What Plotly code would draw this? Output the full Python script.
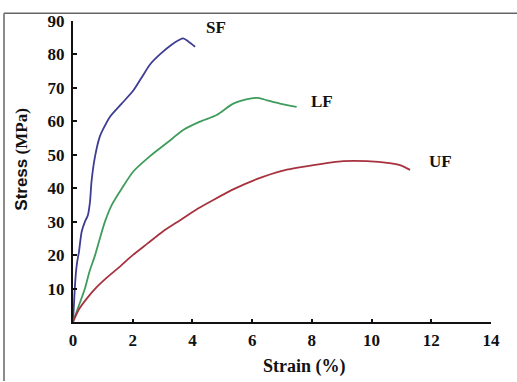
import plotly.graph_objects as go

# Data
sf_strain = [0, 0.03, 0.06, 0.1, 0.14, 0.2, 0.29, 0.4, 0.5, 0.57, 0.62, 0.74, 0.9, 1.0, 1.24, 1.63, 2.02, 2.3, 2.58, 2.91, 3.3, 3.55, 3.69, 3.86, 4.09]
sf_stress = [0, 5, 10, 15, 18, 21, 27, 30, 32, 36, 42, 49.6, 55.5, 57.5, 61.4, 65.3, 69.2, 73.1, 77, 80, 82.9, 84.3, 84.8, 83.9, 82.3]

lf_strain = [0, 0.1, 0.2, 0.4, 0.55, 0.74, 0.9, 1.07, 1.3, 1.64, 2.02, 2.58, 3.14, 3.69, 4.25, 4.81, 5.37, 5.93, 6.2, 6.5, 6.93, 7.49]
lf_stress = [0, 2.5, 5, 10, 15, 20, 25, 30, 35, 40, 45, 49.6, 53.5, 57.4, 59.9, 61.9, 65.3, 66.8, 67, 66.3, 65.3, 64.3]

uf_strain = [0, 0.2, 0.46, 0.8, 1.2, 1.6, 2.0, 2.5, 3.0, 3.6, 4.2, 4.7, 5.4, 6.15, 7.0, 8.05, 9.05, 9.84, 10.6, 10.95, 11.29]
uf_stress = [0, 3.8, 7.0, 10.5, 13.8, 16.8, 20, 23.5, 27, 30.5, 34, 36.5, 39.8, 42.7, 45.2, 46.9, 48.1, 48.1, 47.5, 46.9, 45.5]

series_names = ["SF", "LF", "UF"]
label_pos = [(4.78, 88.0), (8.33, 65.8), (12.3, 47.9)]

x_ticks = [0, 2, 4, 6, 8, 10, 12, 14]
y_ticks = [10, 20, 30, 40, 50, 60, 70, 80, 90]

colors = ["#3d3d92", "#3f9c5c", "#a6323f"]
serif = "Liberation Serif, Times New Roman, serif"

fig = go.Figure()
for (xs, ys, c, n) in [(sf_strain, sf_stress, colors[0], series_names[0]),
                       (lf_strain, lf_stress, colors[1], series_names[1]),
                       (uf_strain, uf_stress, colors[2], series_names[2])]:
    fig.add_trace(go.Scatter(x=xs, y=ys, mode="lines", name=n,
                             line=dict(color=c, width=1.8, shape="spline", smoothing=0.7),
                             showlegend=False, hoverinfo="skip"))

for n, (lx, ly) in zip(series_names, label_pos):
    fig.add_annotation(x=lx, y=ly, text="<b>%s</b>" % n, showarrow=False,
                       xanchor="center", yanchor="middle",
                       font=dict(family=serif, size=17, color="#111111"))

W, H = 517, 382
L, R, T, B = 73, 26, 16, 60
pw, ph = W - L - R, H - T - B

def px(xp):
    return (xp - L) / pw

def py(yp):
    return (H - B - yp) / ph

# axis titles
fig.add_annotation(xref="paper", yref="paper", x=px(304), y=py(367),
                   xanchor="center", yanchor="middle",
                   text="<b>Strain (%)</b>", showarrow=False,
                   font=dict(family=serif, size=18, color="#111111"))
fig.add_annotation(xref="paper", yref="paper", x=px(22), y=py(157),
                   xanchor="center", yanchor="middle",
                   text="<b><span style=\"font-family:Liberation Sans, Arial, sans-serif\">Stress</span> (MPa)</b>",
                   textangle=-90, showarrow=False,
                   font=dict(family=serif, size=17, color="#111111"))

# frame lines (top, left)
fig.add_shape(type="line", xref="paper", yref="paper", x0=px(4), x1=px(517), y0=py(8), y1=py(8),
              line=dict(color="#666666", width=1.5))
fig.add_shape(type="line", xref="paper", yref="paper", x0=px(4), x1=px(4), y0=py(8), y1=py(382),
              line=dict(color="#666666", width=1.5))

fig.update_xaxes(range=[0, 14], tickvals=x_ticks, ticktext=[str(v) for v in x_ticks],
                 showline=True, linecolor="#111111", linewidth=2, showgrid=False, zeroline=False,
                 ticks="inside", ticklen=3, tickwidth=1.5, tickcolor="#111111",
                 tickfont=dict(family=serif, size=17, color="#111111", weight="bold"),
                 ticklabelstandoff=2)
fig.update_yaxes(range=[0, 90], tickvals=y_ticks, ticktext=[str(v) for v in y_ticks],
                 showline=True, linecolor="#111111", linewidth=2, showgrid=False, zeroline=False,
                 ticks="inside", ticklen=4, tickwidth=1.5, tickcolor="#111111",
                 tickfont=dict(family=serif, size=17, color="#111111", weight="bold"),
                 ticklabelstandoff=3)

fig.update_layout(width=W, height=H, margin=dict(l=L, r=R, t=T, b=B),
                  paper_bgcolor="white", plot_bgcolor="white")

fig.write_html("out.html", config={"displayModeBar": False},
               post_script="document.body.style.margin='0';document.body.style.overflow='hidden';")
